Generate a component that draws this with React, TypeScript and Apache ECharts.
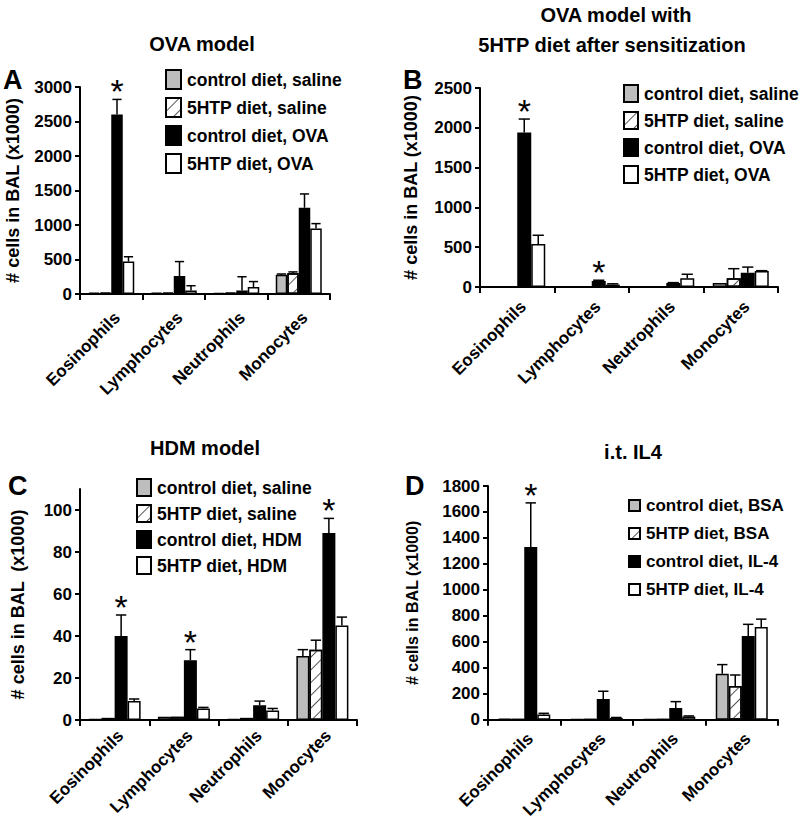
import React, { useEffect, useRef } from 'react';
import * as echarts from 'echarts';

const FONT = '"Liberation Sans", Arial, Helvetica, sans-serif';

const categories = ['Eosinophils', 'Lymphocytes', 'Neutrophils', 'Monocytes'];

const legendA = ['control diet, saline', '5HTP diet, saline', 'control diet, OVA', '5HTP diet, OVA'];
const legendC = ['control diet, saline', '5HTP diet, saline', 'control diet, HDM', '5HTP diet, HDM'];
const legendD = ['control diet, BSA', '5HTP diet, BSA', 'control diet, IL-4', '5HTP diet, IL-4'];

// Panel A: OVA model
const aCtrlSaline = [20, 20, 15, 280];
const aHtpSaline = [20, 20, 20, 300];
const aCtrlOva = [2600, 260, 50, 1250];
const aHtpOva = [470, 50, 100, 950];
const aErrCtrlSaline = [0, 0, 0, 10];
const aErrHtpSaline = [0, 0, 0, 20];
const aErrCtrlOva = [220, 210, 200, 200];
const aErrHtpOva = [70, 70, 80, 70];
const aSig = [1, 0, 0, 0];

// Panel B: OVA model with 5HTP diet after sensitization
const bCtrlSaline = [5, 5, 5, 50];
const bHtpSaline = [5, 5, 5, 110];
const bCtrlOva = [1940, 75, 50, 180];
const bHtpOva = [540, 30, 110, 200];
const bErrCtrlSaline = [0, 0, 0, 0];
const bErrHtpSaline = [0, 0, 0, 120];
const bErrCtrlOva = [170, 10, 5, 70];
const bErrHtpOva = [110, 10, 50, 5];
const bSig = [1, 1, 0, 0];

// Panel C: HDM model
const cCtrlSaline = [0.4, 1.5, 0.4, 30.5];
const cHtpSaline = [1, 1.5, 1, 33.5];
const cCtrlHdm = [40, 28.5, 7, 89];
const cHtpHdm = [9, 5.5, 4.5, 45];
const cErrCtrlSaline = [0, 0, 0, 3];
const cErrHtpSaline = [0, 0, 0, 4.5];
const cErrCtrlHdm = [10, 5, 2, 7];
const cErrHtpHdm = [1, 0.5, 1, 4];
const cSig = [1, 1, 0, 1];

// Panel D: i.t. IL4
const dCtrlBsa = [7, 3, 3, 355];
const dHtpBsa = [4, 3, 3, 260];
const dCtrlIl4 = [1330, 160, 90, 645];
const dHtpIl4 = [40, 15, 25, 715];
const dErrCtrlBsa = [0, 0, 0, 70];
const dErrHtpBsa = [0, 0, 0, 85];
const dErrCtrlIl4 = [340, 60, 50, 90];
const dErrHtpIl4 = [10, 3, 5, 60];
const dSig = [1, 0, 0, 0];

const yTicksC = [0, 20, 40, 60, 80, 100];

type Panel = {
  legend: string[];
  vals: number[][];
  errs: number[][];
  sig: number[];
  grid: { left: number; top: number; width: number; height: number };
  yMax: number;
  yInterval: number;
  barW: number;
  yName: string;
  nameGap: number;
  nameSize: number;
  legendLeft: number;
  legendTop: number;
  iconW: number;
  iconH: number;
  legendGap: number;
  legendFont: number;
  xMargin: number;
  customTicks?: number[];
};

const panels: Panel[] = [
  {
    legend: legendA,
    vals: [aCtrlSaline, aHtpSaline, aCtrlOva, aHtpOva],
    errs: [aErrCtrlSaline, aErrHtpSaline, aErrCtrlOva, aErrHtpOva],
    sig: aSig,
    grid: { left: 80, top: 87, width: 250, height: 207 },
    yMax: 3000, yInterval: 500, barW: 11.5,
    yName: '# cells in BAL (x1000)', nameGap: 58, nameSize: 18,
    legendLeft: 165, legendTop: 69, iconW: 15, iconH: 19, legendGap: 7, legendFont: 17.5,
    xMargin: 15,
  },
  {
    legend: legendA,
    vals: [bCtrlSaline, bHtpSaline, bCtrlOva, bHtpOva],
    errs: [bErrCtrlSaline, bErrHtpSaline, bErrCtrlOva, bErrHtpOva],
    sig: bSig,
    grid: { left: 480, top: 88, width: 298, height: 199 },
    yMax: 2500, yInterval: 500, barW: 14,
    yName: '# cells in BAL (x1000)', nameGap: 60, nameSize: 18,
    legendLeft: 623, legendTop: 84, iconW: 14, iconH: 17, legendGap: 8, legendFont: 17.5,
    xMargin: 11,
  },
  {
    legend: legendC,
    vals: [cCtrlSaline, cHtpSaline, cCtrlHdm, cHtpHdm],
    errs: [cErrCtrlSaline, cErrHtpSaline, cErrCtrlHdm, cErrHtpHdm],
    sig: cSig,
    grid: { left: 80, top: 489, width: 277, height: 231 },
    yMax: 110, yInterval: 20, barW: 13,
    yName: '# cells in BAL  (x1000)', nameGap: 53, nameSize: 18,
    legendLeft: 136, legendTop: 478, iconW: 14, iconH: 17, legendGap: 7, legendFont: 17.5,
    xMargin: 7,
    customTicks: yTicksC,
  },
  {
    legend: legendD,
    vals: [dCtrlBsa, dHtpBsa, dCtrlIl4, dHtpIl4],
    errs: [dErrCtrlBsa, dErrHtpBsa, dErrCtrlIl4, dErrHtpIl4],
    sig: dSig,
    grid: { left: 488, top: 486, width: 290, height: 234 },
    yMax: 1800, yInterval: 200, barW: 13,
    yName: '# cells in BAL (x1000)', nameGap: 68, nameSize: 16,
    legendLeft: 628, legendTop: 497, iconW: 11, iconH: 11, legendGap: 11, legendFont: 17,
    xMargin: 10,
  },
];

const seriesStyles = [
  { color: '#bdbdbd' },
  {
    color: '#ffffff',
    decal: {
      symbol: 'rect', symbolSize: 1, color: '#555555',
      dashArrayX: [1, 0], dashArrayY: [1, 8], rotation: -Math.PI / 4,
    },
  },
  { color: '#000000' },
  { color: '#ffffff' },
];

function buildOption() {
  const grids: any[] = [];
  const xAxes: any[] = [];
  const yAxes: any[] = [];
  const legends: any[] = [];
  const series: any[] = [];

  panels.forEach((p, pi) => {
    grids.push({ ...p.grid, containLabel: false });
    xAxes.push({
      type: 'category', gridIndex: pi, data: categories,
      axisLine: { show: true, lineStyle: { color: '#000', width: 2 } },
      axisTick: { show: true, length: 6, lineStyle: { color: '#000', width: 2 } },
      axisLabel: {
        interval: 0, rotate: 45, margin: p.xMargin, color: '#000', verticalAlign: 'top',
        fontFamily: FONT, fontWeight: 'bold', fontSize: 17,
      },
      splitLine: { show: false },
    });
    const yLabel: any = {
      color: '#000', fontFamily: FONT, fontWeight: 'bold', fontSize: 17, margin: 8,
      formatter: (v: number) => (p.customTicks && v > p.customTicks[p.customTicks.length - 1] ? '' : String(v)),
    };
    const yTick: any = { show: true, length: 5, lineStyle: { color: '#000', width: 2 } };
    if (p.customTicks) {
      yLabel.customValues = p.customTicks;
      yTick.customValues = p.customTicks;
    }
    yAxes.push({
      type: 'value', gridIndex: pi, min: 0, max: p.yMax, interval: p.yInterval,
      name: p.yName, nameLocation: 'middle', nameGap: p.nameGap,
      nameTextStyle: { color: '#000', fontFamily: FONT, fontWeight: 'bold', fontSize: p.nameSize },
      axisLine: { show: true, lineStyle: { color: '#000', width: 2 } },
      axisTick: yTick,
      axisLabel: yLabel,
      splitLine: { show: false },
    });
    legends.push({
      data: p.legend, orient: 'vertical', left: p.legendLeft, top: p.legendTop,
      icon: 'rect', itemWidth: p.iconW, itemHeight: p.iconH, itemGap: p.legendGap,
      padding: 0, selectedMode: false,
      textStyle: { color: '#000', fontFamily: FONT, fontWeight: 'bold', fontSize: p.legendFont, padding: [0, 0, 0, 1] },
    });
    p.vals.forEach((vals, si) => {
      series.push({
        type: 'bar', name: p.legend[si], xAxisIndex: pi, yAxisIndex: pi,
        data: vals, barWidth: p.barW, barGap: '0%',
        itemStyle: { ...seriesStyles[si], borderColor: '#000', borderWidth: 1.5 },
        emphasis: { disabled: true },
      });
    });
    const errData: number[][] = [];
    p.vals.forEach((vals, si) => {
      vals.forEach((v, ci) => {
        errData.push([ci, v, p.errs[si][ci], si, si === 2 ? p.sig[ci] : 0]);
      });
    });
    const barW = p.barW;
    series.push({
      type: 'custom', xAxisIndex: pi, yAxisIndex: pi, data: errData, z: 5, clip: false,
      encode: { x: 0, y: 1 },
      renderItem: (params: any, api: any) => {
        const ci = api.value(0), v = api.value(1), e = api.value(2), si = api.value(3), sig = api.value(4);
        const p0 = api.coord([ci, v]);
        const p1 = api.coord([ci, v + e]);
        const x = p0[0] + (si - 1.5) * barW;
        const children: any[] = [];
        if (e > 0) {
          children.push({ type: 'line', shape: { x1: x, y1: p0[1], x2: x, y2: p1[1] }, style: { stroke: '#000', lineWidth: 1.5 } });
          children.push({ type: 'line', shape: { x1: x - barW * 0.4, y1: p1[1], x2: x + barW * 0.4, y2: p1[1] }, style: { stroke: '#000', lineWidth: 1.5 } });
        }
        if (sig) {
          children.push({
            type: 'text',
            style: { text: '*', x, y: p1[1] - 8, align: 'center', verticalAlign: 'middle', font: `normal 34px ${FONT}`, fill: '#000' },
          });
        }
        return { type: 'group', children };
      },
    });
  });

  const titleStyle = { color: '#000', fontFamily: FONT, fontWeight: 'bold', fontSize: 20 };
  const letterStyle = { color: '#000', fontFamily: FONT, fontWeight: 'bold', fontSize: 27 };

  return {
    animation: false,
    backgroundColor: '#fff',
    title: [
      { text: 'OVA model', left: 202, top: 34, textAlign: 'center', textStyle: titleStyle, padding: 0 },
      { text: 'OVA model with', left: 616, top: 5, textAlign: 'center', textStyle: titleStyle, padding: 0 },
      { text: '5HTP diet after sensitization', left: 612, top: 35, textAlign: 'center', textStyle: titleStyle, padding: 0 },
      { text: 'HDM model', left: 205, top: 438, textAlign: 'center', textStyle: titleStyle, padding: 0 },
      { text: 'i.t. IL4', left: 633, top: 442, textAlign: 'center', textStyle: titleStyle, padding: 0 },
      { text: 'A', left: 3, top: 66, textStyle: letterStyle, padding: 0 },
      { text: 'B', left: 403, top: 66, textStyle: letterStyle, padding: 0 },
      { text: 'C', left: 8, top: 472, textStyle: letterStyle, padding: 0 },
      { text: 'D', left: 405, top: 472, textStyle: letterStyle, padding: 0 },
    ],
    grid: grids,
    xAxis: xAxes,
    yAxis: yAxes,
    legend: legends,
    series,
  };
}

export default function App() {
  const ref = useRef<HTMLDivElement>(null);
  useEffect(() => {
    document.body.style.margin = '0';
    if (!ref.current) return;
    const chart = echarts.init(ref.current, undefined, { renderer: 'svg' });
    chart.setOption(buildOption() as any);
    return () => chart.dispose();
  }, []);
  return <div ref={ref} style={{ width: 801, height: 821 }} />;
}
